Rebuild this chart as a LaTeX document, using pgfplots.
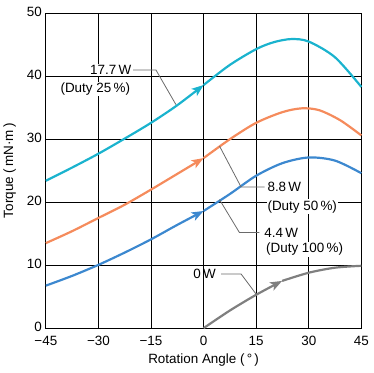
\documentclass[border=0pt]{standalone}
\usepackage{fontspec}
\setmainfont{Liberation Sans}
\usepackage{pgfplots}
\pgfplotsset{compat=1.18}
\usetikzlibrary{arrows.meta}
\definecolor{ccyan}{HTML}{1AB3CE}
\definecolor{corange}{HTML}{F58B5C}
\definecolor{cblue}{HTML}{3C88CF}
\definecolor{cgray}{HTML}{7F7F7F}
\definecolor{cleader}{HTML}{6A6A6A}
\begin{document}
\begin{tikzpicture}[font=\fontsize{13.5bp}{15bp}\selectfont]
\begin{axis}[
 scale only axis, width=317bp, height=316.4bp,
 xmin=-45,xmax=45,ymin=0,ymax=50,
 xtick={-45,-30,-15,0,15,30,45}, xticklabels={−45,−30,−15,0,15,30,45},
 ytick={0,10,20,30,40,50},
 /pgf/number format/assume math mode=true,
 major tick length=0pt,
 grid=major, grid style={black, line width=0.9bp},
 axis line style={black,line width=0.9bp},
 tick label style={font=\fontsize{13.5bp}{15bp}\selectfont},
 yticklabel style={xshift=-0.5bp, yshift=1bp},
 xticklabel style={yshift=-4.5bp},
 xlabel={Rotation Angle (\,°\,)},
 ylabel={Torque (\,mN·m\,)},
 xlabel style={at={(axis description cs:0.5,-0.102)},anchor=center},
 ylabel style={at={(axis description cs:-0.115,0.5)},anchor=center},
 clip=false,
 every axis plot/.append style={line width=2.2bp, smooth},
]
% 17.7 W (Duty 25%)
\addplot[ccyan, -{Stealth[length=12bp,width=9bp,inset=3bp]}] coordinates {(-45,23.4)(-37.5,25.5)(-30,27.7)(-22.5,30.1)(-15,32.6)(-7.5,35.4)(0,38.6)};
\addplot[ccyan] coordinates {(0,38.6)(7.5,41.8)(15,44.3)(20,45.4)(25,45.9)(30,45.5)(37.5,43.0)(45,38.3)};
% 8.8 W (Duty 50%)
\addplot[corange, -{Stealth[length=12bp,width=9bp,inset=3bp]}] coordinates {(-45,13.5)(-37.5,15.4)(-30,17.5)(-22.5,19.6)(-15,22.0)(-7.5,24.5)(0,27.0)};
\addplot[corange] coordinates {(0,27.0)(7.5,30.0)(15,32.6)(22.5,34.3)(28,34.9)(33,34.6)(39,33.0)(45,30.6)};
% 4.4 W (Duty 100%)
\addplot[cblue, -{Stealth[length=12bp,width=9bp,inset=3bp]}] coordinates {(-45,6.75)(-37.5,8.3)(-30,10.05)(-22.5,12.0)(-15,14.1)(-7.5,16.4)(0,18.6)};
\addplot[cblue] coordinates {(0,18.6)(7.5,21.3)(15,24.2)(22.5,26.2)(30,27.1)(37.5,26.6)(45,24.6)};
% 0 W
\addplot[cgray, -{Stealth[length=12bp,width=9bp,inset=3bp]}] coordinates {(0,0)(7.5,2.8)(15,5.3)(22.4,7.5)};
\addplot[cgray] coordinates {(22.4,7.5)(30,8.8)(37.5,9.6)(45,9.9)};

% annotations
\draw[cleader, line width=0.8bp] (axis cs:-20.1,41.0) -- (axis cs:-13.6,41.0) -- (axis cs:-7.9,35.5);
\node[fill=white, inner sep=1bp, anchor=east] at (axis cs:-20.3,41.0) {17.7\,W};
\node[fill=white, inner sep=1bp] at (axis cs:-30.9,38.0) {(Duty 25\,\%)};

\draw[cleader, line width=0.8bp] (axis cs:4.55,28.9) -- (axis cs:10.7,22.4) -- (axis cs:17.4,22.4);
\node[fill=white, inner sep=1bp, anchor=west] at (axis cs:17.9,22.4) {8.8\,W};
\node[fill=white, inner sep=1bp, anchor=west] at (axis cs:17.9,19.3) {(Duty 50\,\%)};

\draw[cleader, line width=0.8bp] (axis cs:4.55,20.4) -- (axis cs:10.2,15.2) -- (axis cs:15.9,15.2);
\node[fill=white, inner sep=1bp, anchor=west] at (axis cs:17.0,15.2) {4.4\,W};
\node[fill=white, inner sep=1bp, anchor=west] at (axis cs:17.5,12.5) {(Duty 100\,\%)};

\draw[cleader, line width=0.8bp] (axis cs:5.0,8.6) -- (axis cs:10.7,8.6) -- (axis cs:14.95,5.43);
\node[inner sep=1bp, anchor=east] at (axis cs:3.8,8.6) {0\,W};
\end{axis}
\path (current axis.south west) ++(-44.3bp,-44.3bp) rectangle ++(374bp,374bp);
\end{tikzpicture}
\end{document}
